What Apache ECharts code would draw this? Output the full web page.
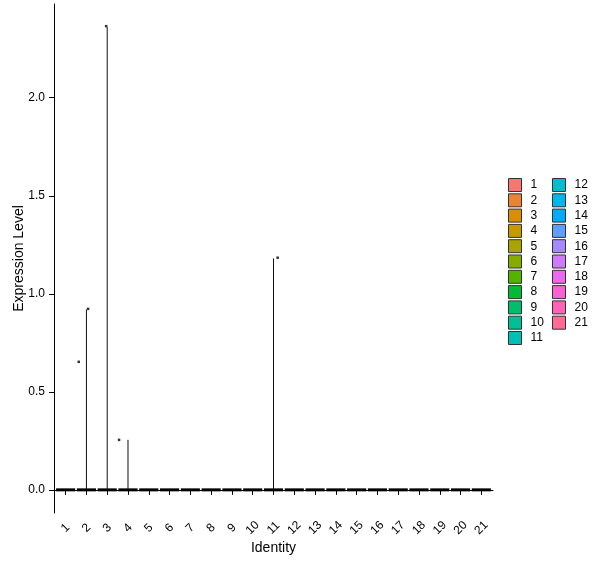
<!DOCTYPE html>
<html>
<head>
<meta charset="utf-8">
<script src="https://cdn.jsdelivr.net/npm/echarts@6/dist/echarts.min.js"></script>
<style>
  html, body { margin: 0; padding: 0; background: #fff; }
  #main { width: 600px; height: 568px; }
</style>
</head>
<body>
<div id="main"></div>
<script>
// clusters (Identity)
var categories = ['1','2','3','4','5','6','7','8','9','10','11','12','13','14','15','16','17','18','19','20','21'];
// top of the thin violin for each cluster (0 = flat at zero)
var violinTop = [0, 0.92, 2.36, 0.255, 0, 0, 0, 0, 0, 0, 1.18, 0, 0, 0, 0, 0, 0, 0, 0, 0, 0];
// non-zero cells (jittered x)
var pointX = [1.63, 2.08, 2.95, 3.57, 11.2];
var pointY = [0.653, 0.923, 2.365, 0.255, 1.184];
var yTicks = [0, 0.5, 1.0, 1.5, 2.0];

// ggplot default hue palette (hcl, c=100, l=65)
function hcl(h, c, l) {
    var Xn = 95.047, Yn = 100, Zn = 108.883;
    var un = 4 * Xn / (Xn + 15 * Yn + 3 * Zn), vn = 9 * Yn / (Xn + 15 * Yn + 3 * Zn);
    var hr = h * Math.PI / 180;
    var u = c * Math.cos(hr), v = c * Math.sin(hr);
    var Y = Yn * Math.pow((l + 16) / 116, 3);
    var up = u / (13 * l) + un, vp = v / (13 * l) + vn;
    var X = Y * 9 * up / (4 * vp);
    var Z = Y * (12 - 3 * up - 20 * vp) / (4 * vp);
    X /= 100; Y /= 100; Z /= 100;
    var r = 3.2404542 * X - 1.5371385 * Y - 0.4985314 * Z;
    var g = -0.9692660 * X + 1.8760108 * Y + 0.0415560 * Z;
    var b = 0.0556434 * X - 0.2040259 * Y + 1.0572252 * Z;
    function gam(t) {
        t = t <= 0.0031308 ? 12.92 * t : 1.055 * Math.pow(t, 1 / 2.4) - 0.055;
        t = Math.round(Math.max(0, Math.min(1, t)) * 255);
        return ('0' + t.toString(16)).slice(-2);
    }
    return '#' + gam(r) + gam(g) + gam(b);
}
var colors = categories.map(function (c, i) {
    return hcl(15 + 360 * i / categories.length, 100, 65);
});

var font = "'Liberation Sans', Arial, sans-serif";
var myChart = echarts.init(document.getElementById('main'));

var series = categories.map(function (name, i) {
    return {
        name: name,
        type: 'custom',
        itemStyle: { color: colors[i] },
        data: [[i + 1, violinTop[i]]],
        renderItem: function (params, api) {
            var x = api.value(0), top = api.value(1);
            var l = api.coord([x - 0.46, 0]);
            var r = api.coord([x + 0.46, 0]);
            var children = [{
                type: 'line',
                shape: { x1: l[0], y1: l[1], x2: r[0], y2: r[1] },
                style: { stroke: '#000', lineWidth: 3 }
            }];
            if (top > 0) {
                var b = api.coord([x, 0]);
                var t = api.coord([x, top]);
                children.push({
                    type: 'line',
                    shape: { x1: b[0], y1: b[1], x2: t[0], y2: t[1] },
                    style: { stroke: '#111', lineWidth: 1 }
                });
            }
            return { type: 'group', children: children };
        }
    };
});

series.push({
    name: 'cells',
    type: 'scatter',
    symbol: 'rect',
    symbolSize: 2.5,
    itemStyle: { color: '#000' },
    data: pointX.map(function (x, i) { return [x, pointY[i]]; }),
    z: 5
});

var legendBase = {
    orient: 'vertical',
    top: 173,
    padding: 5,
    icon: 'rect',
    itemWidth: 13,
    itemHeight: 13,
    itemGap: 1.3,
    selectedMode: false,
    itemStyle: { borderColor: '#333', borderWidth: 1 },
    textStyle: { fontFamily: font, fontSize: 12, lineHeight: 13, color: '#000', padding: [0, 0, 0, 4] }
};

option = {
    animation: false,
    grid: { left: 54, right: 107, top: 4, bottom: 55, containLabel: false, outerBoundsMode: 'none' },
    legend: [
        Object.assign({}, legendBase, { left: 503, data: categories.slice(0, 11) }),
        Object.assign({}, legendBase, { left: 547, data: categories.slice(11) })
    ],
    xAxis: {
        type: 'value',
        min: 0.44,
        max: 21.56,
        name: 'Identity',
        nameLocation: 'middle',
        nameGap: 28,
        nameMoveOverlap: false,
        nameTextStyle: { fontFamily: font, fontSize: 14, color: '#000' },
        axisLine: { lineStyle: { color: '#000', width: 1 } },
        axisTick: { customValues: categories.map(function (c, i) { return i + 1; }), length: 5, lineStyle: { color: '#000' } },
        axisLabel: {
            customValues: categories.map(function (c, i) { return i + 1; }),
            formatter: function (v) { return categories[Math.round(v) - 1]; },
            rotate: 45,
            align: 'center',
            verticalAlign: 'middle',
            margin: 15,
            fontFamily: font,
            fontSize: 12,
            color: '#000'
        },
        splitLine: { show: false }
    },
    yAxis: {
        type: 'value',
        min: -0.118,
        max: 2.478,
        name: 'Expression Level',
        nameLocation: 'middle',
        nameGap: 28,
        nameMoveOverlap: false,
        nameTextStyle: { fontFamily: font, fontSize: 14, color: '#000' },
        axisLine: { show: true, lineStyle: { color: '#000', width: 1 } },
        axisTick: { show: true, customValues: yTicks, length: 5, lineStyle: { color: '#000' } },
        axisLabel: {
            customValues: yTicks,
            formatter: function (v) { return v.toFixed(1); },
            margin: 9,
            fontFamily: font,
            fontSize: 12,
            color: '#000'
        },
        splitLine: { show: false }
    },
    series: series
};

myChart.setOption(option);
</script>
</body>
</html>
